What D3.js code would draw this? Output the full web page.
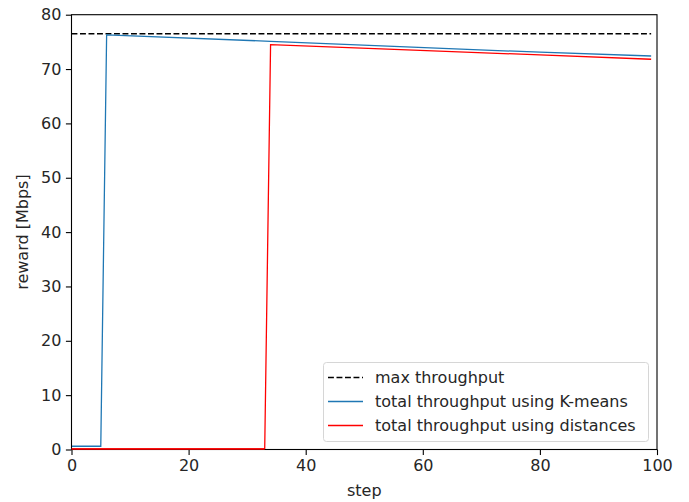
<!DOCTYPE html>
<html>
<head>
<meta charset="utf-8">
<script src="https://cdn.jsdelivr.net/npm/d3@7"></script>
<style>
  html, body { margin: 0; padding: 0; background: #fff; }
  svg { display: block; }
  text { font-family: "DejaVu Sans", sans-serif; fill: #262626; }
</style>
</head>
<body>
<svg id="chart" width="689" height="502"></svg>
<script>
// ---- data ----
const maxThroughputSteps = [0, 99];
const maxThroughputValues = [76.5, 76.5];

const kmeansSteps = [0, 5, 6, 34, 54, 80, 99];
const kmeansValues = [0.6, 0.6, 76.3, 75.1, 74.2, 73.1, 72.4];

const distancesSteps = [0, 33, 34, 54, 80, 99];
const distancesValues = [0.1, 0.1, 74.5, 73.65, 72.6, 71.8];

const xTicks = [0, 20, 40, 60, 80, 100];
const yTicks = [0, 10, 20, 30, 40, 50, 60, 70, 80];

const seriesNames = ["max throughput", "total throughput using K-means", "total throughput using distances"];
const seriesColors = ["#000000", "#1f77b4", "#ff0000"];

// ---- layout ----
const svg = d3.select("#chart");
const L = 71.5, T = 14.7, R = 657, B = 449.5;
const x = d3.scaleLinear().domain([0, 100]).range([L, R]);
const y = d3.scaleLinear().domain([0, 80]).range([B, T]);

const series = [
  { steps: maxThroughputSteps, values: maxThroughputValues, dash: "5.9,2.6" },
  { steps: kmeansSteps, values: kmeansValues, dash: "none" },
  { steps: distancesSteps, values: distancesValues, dash: "none" }
];

const line = d3.line().x(d => x(d[0])).y(d => y(d[1]));

const g = svg.append("g");
g.append("defs").append("clipPath").attr("id", "clip")
  .append("rect").attr("x", L).attr("y", T - 2).attr("width", R - L).attr("height", B - T + 2);

const lines = g.append("g").attr("clip-path", "url(#clip)");
series.forEach((s, i) => {
  const pts = s.steps.map((st, j) => [st, s.values[j]]);
  lines.append("path")
    .attr("d", line(pts))
    .attr("fill", "none")
    .attr("stroke", seriesColors[i])
    .attr("stroke-width", i === 0 ? 1.5 : 1.3)
    .attr("stroke-dasharray", s.dash)
    .attr("stroke-linejoin", "miter");
});

// ---- axes ----
const fontSize = 16;
const xAxis = d3.axisBottom(x).tickValues(xTicks).tickSize(5.6).tickPadding(4.5).tickFormat(d3.format("d"));
const yAxis = d3.axisLeft(y).tickValues(yTicks).tickSize(5.6).tickPadding(4.5).tickFormat(d3.format("d"));

const gx = svg.append("g").attr("transform", `translate(0,${B})`).call(xAxis);
const gy = svg.append("g").attr("transform", `translate(${L},0)`).call(yAxis);
[gx, gy].forEach(a => {
  a.select(".domain").remove();
  a.selectAll("line").attr("stroke", "#000").attr("stroke-width", 1.1);
  a.selectAll("text").attr("font-size", fontSize).attr("font-family", "DejaVu Sans, sans-serif").attr("fill", "#262626");
});

// frame (spines)
svg.append("rect").attr("x", L).attr("y", T).attr("width", R - L).attr("height", B - T)
  .attr("fill", "none").attr("stroke", "#000").attr("stroke-width", 1.1);

// redraw the flat red segment on top of the bottom spine (as in the reference)
svg.append("path")
  .attr("d", line(distancesSteps.slice(0, 2).map((st, j) => [st, distancesValues[j]])))
  .attr("fill", "none").attr("stroke", seriesColors[2]).attr("stroke-width", 1.5);

// axis labels
svg.append("text").attr("x", (L + R) / 2).attr("y", 496).attr("text-anchor", "middle")
  .attr("font-size", fontSize).text("step");
svg.append("text").attr("transform", `translate(28,${(T + B) / 2}) rotate(-90)`)
  .attr("text-anchor", "middle").attr("font-size", fontSize).text("reward [Mbps]");

// ---- legend ----
const lg = svg.append("g");
lg.append("rect").attr("x", 323.5).attr("y", 362.5).attr("width", 325).attr("height", 79)
  .attr("rx", 3).attr("fill", "#fff").attr("fill-opacity", 0.8)
  .attr("stroke", "#d6d6d6").attr("stroke-width", 1);
const rowY = [377.5, 401.5, 425.5];
seriesNames.forEach((name, i) => {
  lg.append("path")
    .attr("d", `M328,${rowY[i]}H363`)
    .attr("fill", "none")
    .attr("stroke", seriesColors[i]).attr("stroke-width", 1.5)
    .attr("stroke-dasharray", series[i].dash);
  lg.append("text").attr("x", 375).attr("y", rowY[i]).attr("dy", "0.35em")
    .attr("font-size", fontSize).text(name);
});
</script>
</body>
</html>
